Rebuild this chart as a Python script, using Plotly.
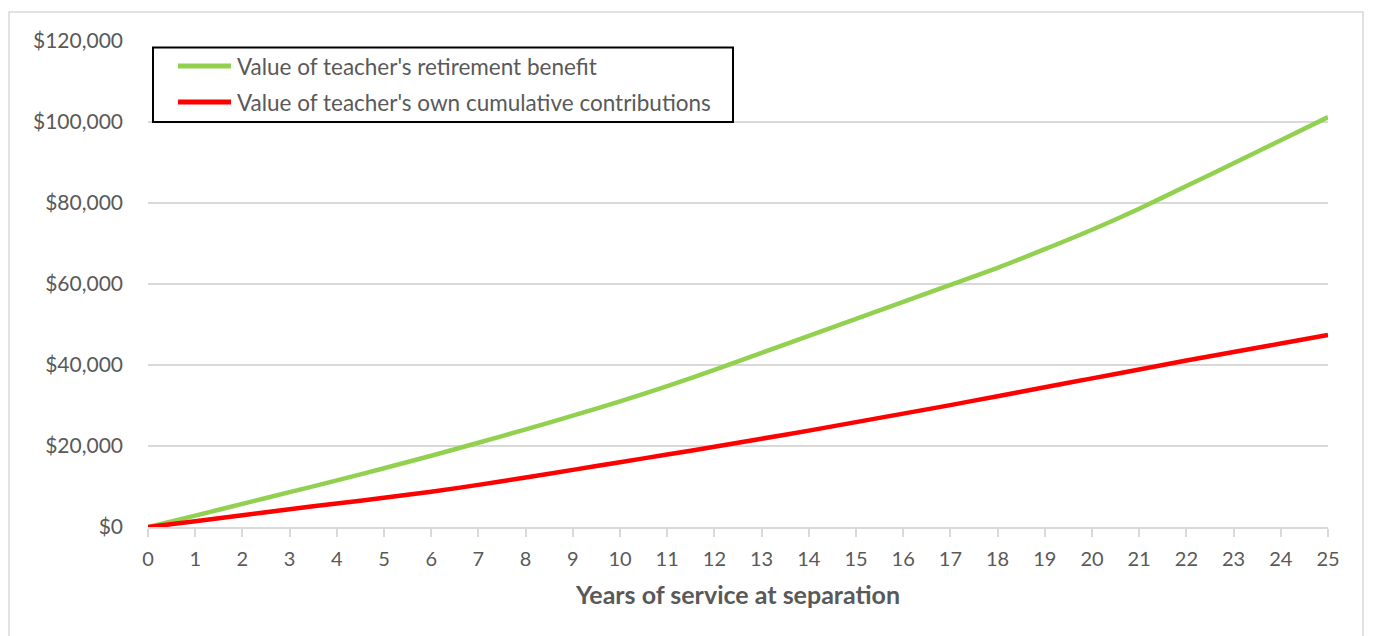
import plotly.graph_objects as go

years = list(range(0, 26))
benefit_value = [0, 2.8, 5.7, 8.6, 11.5, 14.5, 17.6, 20.8, 24.1, 27.5, 31.0, 34.8, 38.8,
                 43.0, 47.2, 51.4, 55.6, 59.8, 64.0, 68.6, 73.4, 78.6, 84.2, 89.8, 95.5, 101.2]
contrib_value = [0, 1.4, 2.9, 4.4, 5.8, 7.2, 8.7, 10.4, 12.2, 14.1, 16.0, 17.9, 19.8,
                 21.8, 23.8, 25.9, 28.0, 30.1, 32.3, 34.5, 36.7, 38.9, 41.1, 43.2, 45.3, 47.4]
benefit_value = [v * 1000 for v in benefit_value]
contrib_value = [v * 1000 for v in contrib_value]

series_names = ["Value of teacher's retirement benefit",
                "Value of teacher's own cumulative contributions"]
series_colors = ["#92D050", "#FF0000"]

y_ticks = [0, 20000, 40000, 60000, 80000, 100000, 120000]
y_tick_labels = ["$0", "$20,000", "$40,000", "$60,000", "$80,000", "$100,000", "$120,000"]

FONT = "Lato"
TXT = "#595959"
GRID = "#d9d9d9"

W, H = 1373, 636
L, R, T, B = 148, 45, 41, 109


def px_x(px):
    return (px - L) / (W - L - R)


def px_y(py):
    return (H - B - py) / (H - T - B)


fig = go.Figure()
for vals, name, color in zip([benefit_value, contrib_value], series_names, series_colors):
    fig.add_trace(go.Scatter(
        x=years, y=vals, mode="lines", name=name,
        line=dict(color=color, width=4.5, shape="spline", smoothing=0.6),
        showlegend=False,
    ))

# outer chart border and boxed legend in the upper left of the plot area
shapes = [
    dict(type="rect", xref="paper", yref="paper",
         x0=px_x(9), x1=px_x(1363), y0=px_y(660), y1=px_y(12),
         line=dict(color=GRID, width=1.5), fillcolor="rgba(0,0,0,0)", layer="below"),
    dict(type="rect", xref="paper", yref="paper",
         x0=px_x(153), x1=px_x(733), y0=px_y(122), y1=px_y(47.5),
         line=dict(color="black", width=2), fillcolor="white", layer="above"),
]
annotations = []
for i, (name, color) in enumerate(zip(series_names, series_colors)):
    yc = 66 + 36 * i
    shapes.append(dict(type="line", xref="paper", yref="paper",
                       x0=px_x(178), x1=px_x(231), y0=px_y(yc), y1=px_y(yc),
                       line=dict(color=color, width=5), layer="above"))
    annotations.append(dict(xref="paper", yref="paper", x=px_x(235), y=px_y(yc),
                            xanchor="left", yanchor="middle", showarrow=False,
                            text=name, font=dict(family=FONT, size=22.5, color=TXT)))

fig.update_layout(
    width=W, height=H,
    margin=dict(l=L, r=R, t=T, b=B),
    paper_bgcolor="white", plot_bgcolor="white",
    font=dict(family=FONT, color=TXT, size=20),
    showlegend=False,
    xaxis=dict(
        range=[0, 25], tickmode="array", tickvals=years,
        ticks="outside", ticklen=8, tickcolor=GRID, tickwidth=1.5,
        showline=True, linecolor=GRID, linewidth=1.5,
        showgrid=False, zeroline=False,
        ticklabelstandoff=5,
        tickfont=dict(family=FONT, size=20, color=TXT),
        title=dict(text="<b>Years of service at separation</b>",
                   font=dict(family=FONT, size=25, color=TXT), standoff=18),
    ),
    yaxis=dict(
        range=[0, 120000], tickmode="array", tickvals=y_ticks, ticktext=y_tick_labels,
        showgrid=True, gridcolor=GRID, gridwidth=1.5,
        zeroline=False, showline=False, ticks="",
        ticklabelstandoff=24,
        tickfont=dict(family=FONT, size=21, color=TXT),
    ),
    shapes=shapes,
    annotations=annotations,
)

fig.write_html("out.html")
